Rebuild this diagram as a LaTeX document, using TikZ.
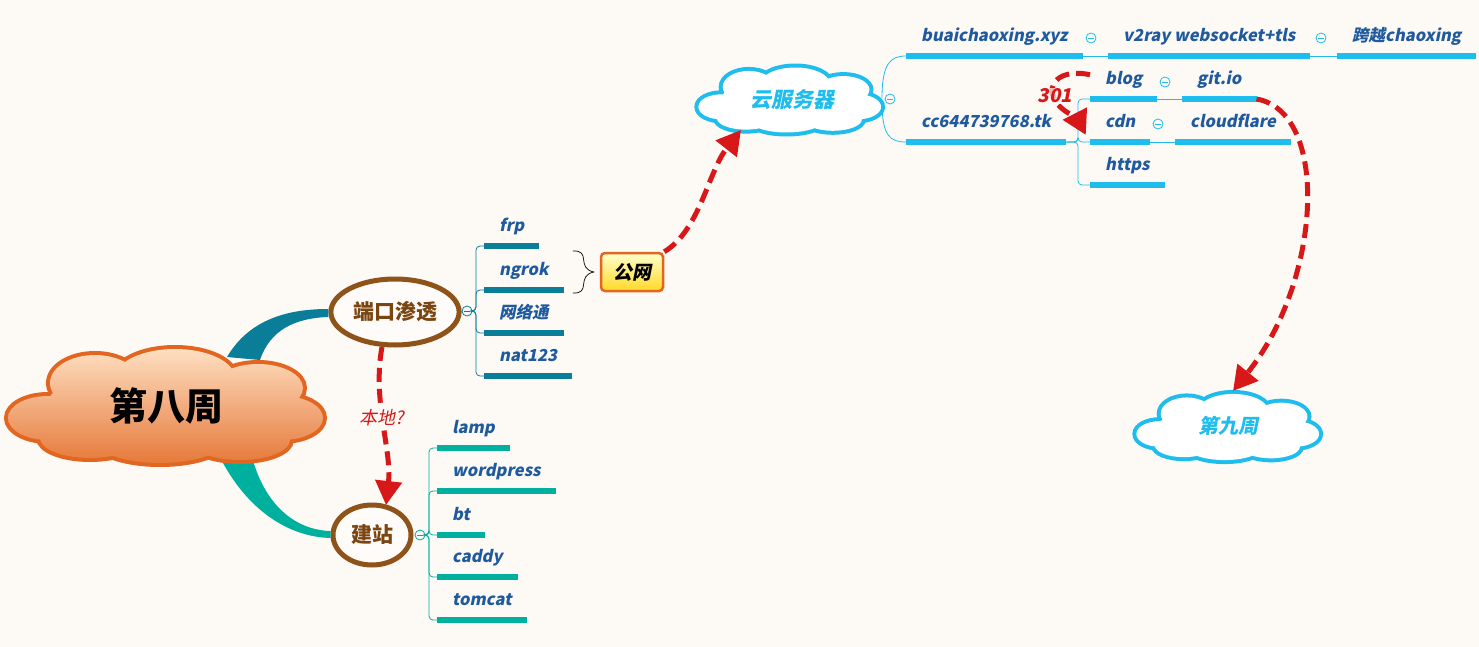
\documentclass[tikz,border=0pt]{standalone}
\usepackage{fontspec}
\setmainfont{Noto Sans CJK SC}
\newfontfamily\cjkit{Noto Sans CJK SC}[FakeSlant=0.2,BoldFeatures={FakeSlant=0.2}]
\usetikzlibrary{shapes.geometric,arrows.meta,calc}

\definecolor{bg}{HTML}{FDF9F5}
\definecolor{portcol}{HTML}{0A7D99}
\definecolor{sitecol}{HTML}{00B09E}
\definecolor{skycol}{HTML}{1EBDEE}
\definecolor{inkblue}{HTML}{1F5A9E}
\definecolor{browncol}{HTML}{8E5318}
\definecolor{browntxt}{HTML}{7A4510}
\definecolor{relred}{HTML}{D81818}
\definecolor{orgline}{HTML}{E2661F}

% puffs of one cloud, around (0,0)
\newcommand\cloudpuffs{(0,2) ellipse [x radius=120,y radius=45]
  (-118,12) ellipse [x radius=40,y radius=22]
  (-71,-23) ellipse [x radius=45,y radius=28]
  (9,-28) ellipse [x radius=60,y radius=29]
  (92,-18) ellipse [x radius=45,y radius=24]
  (116,12) ellipse [x radius=41,y radius=22]
  (74,34) ellipse [x radius=50,y radius=20]
  (-6,34) ellipse [x radius=65,y radius=23]
  (-76,32) ellipse [x radius=50,y radius=20]}

\begin{document}
\begin{tikzpicture}[x=1pt,y=-1pt,
  leaf/.style={anchor=south west,inner xsep=15pt,inner ysep=10pt,text height=12pt,text depth=4pt,
    font=\cjkit\bfseries\fontsize{16.5}{18}\selectfont,text=inkblue},
  bar/.style={line width=5.5pt,draw=#1},
  twig/.style={line width=0.8pt,draw=#1,rounded corners=4pt},
  knob/.style={circle,draw=#1,fill=bg,line width=0.8pt,minimum size=10pt,inner sep=0pt,
    path picture={\draw[#1,line width=0.8pt] ([xshift=-2.6pt]path picture bounding box.center) -- ([xshift=2.6pt]path picture bounding box.center);}},
  ring/.style={ellipse,draw=browncol,line width=5pt,fill=bg!60!white,text=browntxt,
    font=\bfseries\fontsize{21}{24}\selectfont},
  skytxt/.style={text=skycol,font=\cjkit\bfseries\fontsize{#1}{24}\selectfont},
  rel/.style={draw=relred,line width=5pt,dash pattern=on 14pt off 7pt,
    -{Triangle[length=24pt,width=26pt]}}
]
\useasboundingbox (0,0) rectangle (1479,647);
\fill[bg] (0,0) rectangle (1479,647);

% main branches
\coordinate (mc) at (166,406);
\node[ring,minimum width=126pt,minimum height=66pt] (port) at (395,312) {端口渗透};
\node[ring,minimum width=78pt,minimum height=60pt] (site) at (372,535) {建站};
\fill[portcol] ($(mc)+(61,-49)$) .. controls (250,318) and (290,309) .. ([yshift=3pt]port.west)
  -- ([yshift=-5pt]port.west) .. controls (295,318) and (270,330) .. ($(mc)+(94,-46)$) -- cycle;
\fill[sitecol] ($(mc)+(57,57)$) .. controls (250,512) and (290,537) .. ([yshift=-3pt]site.west)
  -- ([yshift=4pt]site.west) .. controls (295,530) and (265,505) .. ($(mc)+(86,51)$) -- cycle;

% clouds
\begin{scope}[shift={(mc)}]
  \draw[orgline,line width=8pt] \cloudpuffs;
  \begin{scope}
    \clip \cloudpuffs;
    \shade[top color=orange!22!white,bottom color=orgline!90!white] (-165,-62) rectangle (165,62);
  \end{scope}
\end{scope}
\node[font=\bfseries\fontsize{38}{42}\selectfont] (main) at (mc) {第八周};

\begin{scope}[shift={(790,100)},xscale=0.58,yscale=0.57]
  \draw[skycol,line width=8pt] \cloudpuffs;
  \fill[white] \cloudpuffs;
\end{scope}
\node[skytxt=21] (yun) at (792,100) {云服务器};

\begin{scope}[shift={(1228,427)},xscale=0.58,yscale=0.58]
  \draw[skycol,line width=8pt] \cloudpuffs;
  \fill[white] \cloudpuffs;
\end{scope}
\node[skytxt=20] (jiu) at (1228,426) {第九周};

% port children
\node[knob=portcol] (kport) at (467,311) {};
\foreach \n/\t/\y in {frp/frp/246,ngrok/ngrok/290,wlt/网络通/333,nat/nat123/376}{
  \node[leaf] (\n) at (484,\y) {\t};
  \draw[bar=portcol] (\n.south west) -- (\n.south east);
  \draw[twig=portcol] (kport.east) -| ([xshift=-8pt]\n.south west) -- (\n.south west);
}

% site children
\node[knob=sitecol] (ksite) at (420,535) {};
\foreach \n/\t/\y in {lamp/lamp/448,wp/wordpress/491,bt/bt/535,caddy/caddy/577,tomcat/tomcat/620}{
  \node[leaf] (\n) at (437,\y) {\t};
  \draw[bar=sitecol] (\n.south west) -- (\n.south east);
  \draw[twig=sitecol] (ksite.east) -| ([xshift=-8pt]\n.south west) -- (\n.south west);
}

% public net
\node[draw=orgline,line width=2.5pt,rounded corners=4pt,top color=yellow!20!white,bottom color=yellow!65!orange!85!white,
  minimum width=62pt,minimum height=38pt,inner sep=0pt,font=\cjkit\bfseries\fontsize{19}{22}\selectfont] (gw) at (632,272) {公网};
\coordinate (tip) at ($(gw.west)+(-6,0)$);
\draw[line width=0.7pt] ($(tip)+(-21,-21)$) .. controls ($(tip)+(-2,-22)$) and ($(tip)+(-18,-4)$) .. (tip)
  .. controls ($(tip)+(-18,4)$) and ($(tip)+(-2,22)$) .. ($(tip)+(-21,21)$);

% cloud server children
\node[knob=skycol] (kyun) at (890,99) {};
\node[leaf] (buai) at (906,56) {buaichaoxing.xyz};
\node[leaf] (v2) at (1108,56) {v2ray websocket+tls};
\node[leaf] (kua) at (1337,56) {跨越chaoxing};
\node[leaf] (cc) at (906,142) {cc644739768.tk};
\node[leaf] (blog) at (1090,99) {blog};
\node[leaf] (git) at (1182,99) {git.io};
\node[leaf] (cdn) at (1090,142) {cdn};
\node[leaf] (cf) at (1175,142) {cloudflare};
\node[leaf] (https) at (1090,185) {https};
\foreach \n in {buai,v2,kua,cc,blog,git,cdn,cf,https}{
  \draw[bar=skycol] (\n.south west) -- (\n.south east);
}
\node[knob=skycol] (kbuai) at (1091,38) {};
\node[knob=skycol] (kv2) at (1321,38) {};
\node[knob=skycol] (kblog) at (1165,82) {};
\node[knob=skycol] (kcdn) at (1158,124) {};
\draw[twig=skycol] (buai.south east) -- (v2.south west);
\draw[twig=skycol] (v2.south east) -- (kua.south west);
\draw[twig=skycol] (blog.south east) -- (git.south west);
\draw[twig=skycol] (cdn.south east) -- (cf.south west);
\draw[line width=0.8pt,skycol] ($(yun.center)+(90,-2)$) .. controls (882,64) and (890,56) .. (buai.south west);
\draw[line width=0.8pt,skycol] ($(yun.center)+(90,2)$) .. controls (882,136) and (890,142) .. (cc.south west);
\foreach \n in {blog,cdn,https}{
  \draw[twig=skycol] (cc.south east) -| ([xshift=-12pt]\n.south west) -- (\n.south west);
}

% relations
\draw[rel] (gw.north east) .. controls (700,230) and (708,172) .. ($(yun.center)+(-51,30)$);
\draw[rel] (git.south east) .. controls (1330,112) and (1322,280) .. ($(jiu.center)+(5,-35)$);
\draw[rel] ($(port.center)+(-13,35)$) .. controls (372,400) and (392,450) .. ($(site.center)+(14,-30)$)
  node[pos=.45,fill=bg,inner sep=1pt,text=relred,font=\cjkit\fontsize{18}{20}\selectfont] (bd) {本地?};
\draw[rel] ($(blog.west)+(0,-6)$) .. controls (1060,68) and (1045,85) .. (1055,100)
  .. controls (1062,114) and (1086,121) .. ($(cc.east)+(-4,-4)$);
\node[fill=bg,fill opacity=.7,text opacity=1,inner sep=1pt,text=relred,
  font=\cjkit\bfseries\fontsize{19}{22}\selectfont] (n301) at (1055,96) {301};
\end{tikzpicture}
\end{document}
